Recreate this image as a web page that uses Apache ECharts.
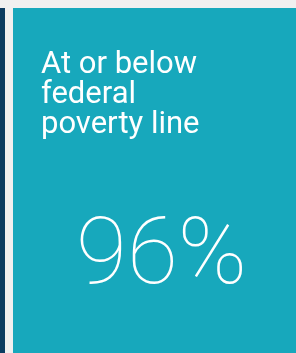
<!DOCTYPE html>
<html>
<head>
<meta charset="utf-8">
<script src="https://cdn.jsdelivr.net/npm/echarts@6/dist/echarts.min.js"></script>
<style>
  html, body { margin: 0; padding: 0; background: #f0f0f0; }
  #main { width: 296px; height: 353px; }
</style>
</head>
<body>
<div id="main"></div>
<script>
// stat card data
const labelLines = ['At or below', 'federal', 'poverty line'];
const statValues = [96];
const statUnit = '%';

const chart = echarts.init(document.getElementById('main'));

const option = {
  backgroundColor: '#f0f0f0',
  graphic: [
    { type: 'rect', shape: { x: 0, y: 8, width: 5, height: 345 }, style: { fill: '#0b3c61' } },
    { type: 'rect', shape: { x: 13, y: 8, width: 283, height: 345 }, style: { fill: '#17a8bc' } },
    {
      type: 'text', left: 41, top: 50,
      style: {
        text: labelLines.join('\n'),
        fill: '#fff',
        font: '400 31px Roboto',
        lineHeight: 30
      }
    },
    {
      type: 'text', left: 76, top: 213,
      style: {
        text: statValues[0] + statUnit,
        fill: '#fff',
        font: '100 93px Roboto'
      }
    }
  ]
};

chart.setOption(option);
</script>
</body>
</html>
